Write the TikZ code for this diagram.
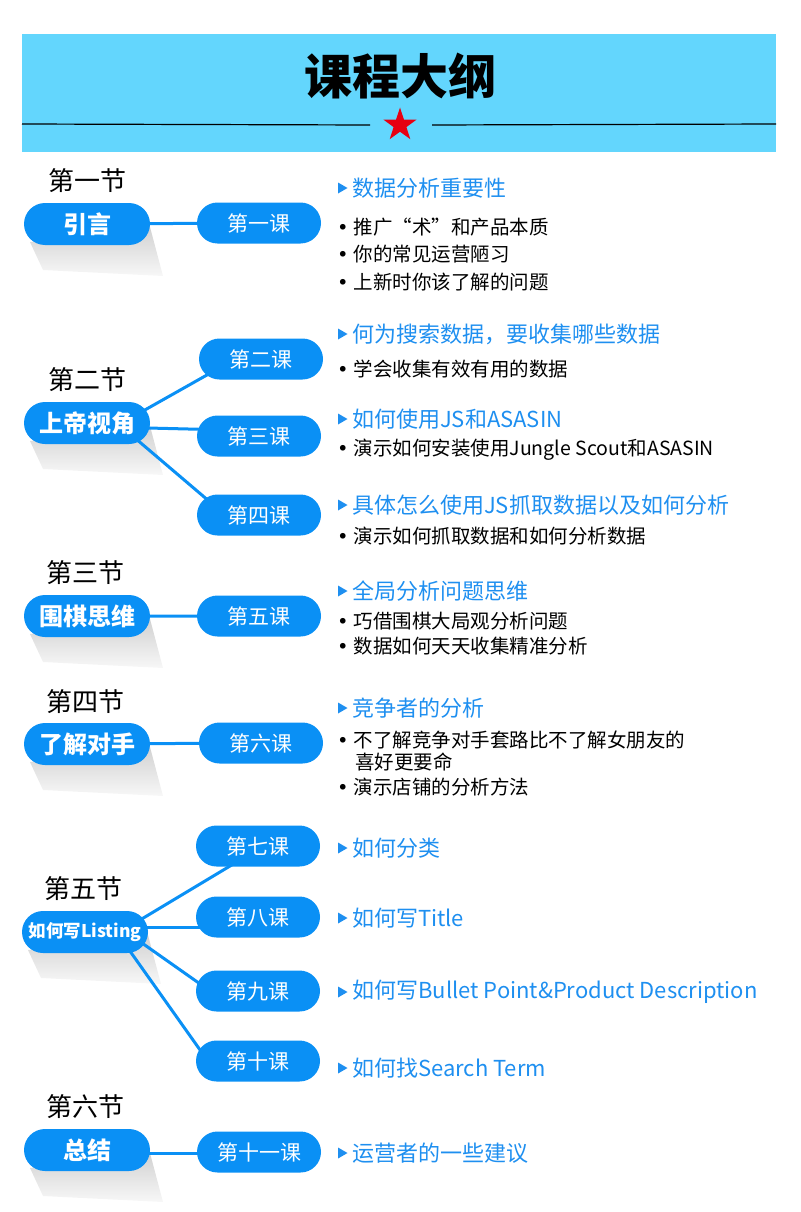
\documentclass[tikz,border=0pt]{standalone}
\usepackage{fontspec}
\setmainfont{Noto Sans CJK SC}
\newfontfamily\symfont{DejaVu Sans}
\usetikzlibrary{shapes.misc, shapes.geometric, calc, backgrounds}
\definecolor{banner}  {HTML}{63D6FD}
\definecolor{pill}    {HTML}{0A90F5}
\definecolor{headblue}{HTML}{1E8FF0}
\definecolor{starred} {HTML}{E60012}

\tikzset{
  sectpill/.style={rounded rectangle, fill=pill, text=white, inner sep=0pt,
    font=\fontsize{24}{24}\selectfont\bfseries, minimum width=126pt, minimum height=42pt},
  lessonpill/.style={rounded rectangle, fill=pill, text=white, inner sep=0pt,
    font=\fontsize{21}{21}\selectfont, minimum width=124pt, minimum height=41pt},
  sectlabel/.style={font=\fontsize{26}{26}\selectfont, text=black},
  headline/.style={anchor=west, text=headblue, inner sep=0pt, font=\fontsize{22}{22}\selectfont},
  itemline/.style={anchor=west, text=black, inner sep=0pt, font=\fontsize{19.5}{19.5}\selectfont},
  link/.style={draw=pill, line width=3pt},
  shadowbox/.style={top color=black!18, bottom color=black!3, draw=none}
}
\newcommand{\dotmark}{{\symfont •}\hspace{5pt}}

\begin{document}
\begin{tikzpicture}[x=1pt, y=-1pt]
  \useasboundingbox (0,0) rectangle (800,1212);

  % banner
  \fill[banner] (22,34) rectangle (776,152);
  \node[font=\fontsize{48}{48}\selectfont\bfseries] (title) at (400,76) {课程大纲};
  \node[star, star points=5, star point ratio=2.6, fill=starred, minimum size=35pt, inner sep=0pt] (star) at (400,125) {};
  \draw[line width=1.2pt] (22,124) -- ($(star.center)+(-30,0)$);
  \draw[line width=1.2pt] ($(star.center)+(32,0)$) -- (776,124);

  % sections
  \foreach \n/\x/\y/\t in {1/87/181/第一节, 2/87/380/第二节, 3/85/573/第三节,
                           4/85/702/第四节, 5/83/889/第五节, 6/85/1107/第六节}
    \node[sectlabel] (lab\n) at (\x,\y) {\t};
  \node[sectpill] (s1) at (87,224) {引言};
  \node[sectpill] (s2) at (87,423) {上帝视角};
  \node[sectpill] (s3) at (87,616) {围棋思维};
  \node[sectpill] (s4) at (87,744) {了解对手};
  \node[sectpill, font=\fontsize{17.5}{17.5}\selectfont\bfseries] (s5) at (85,932) {如何写Listing};
  \node[sectpill] (s6) at (87,1150) {总结};

  % lessons
  \foreach \n/\x/\y/\t in {1/259/223/第一课, 2/261/359/第二课, 3/259/436/第三课,
                           4/259/515/第四课, 5/259/616/第五课, 6/261/743/第六课,
                           7/258/846/第七课, 8/258/917/第八课, 9/258/991/第九课,
                           10/258/1061/第十课, 11/259/1152/第十一课}
    \node[lessonpill] (l\n) at (\x,\y) {\t};

  % blue headings with their triangles
  \foreach \y/\t [count=\i] in {188/数据分析重要性, 334/何为搜索数据，要收集哪些数据,
        419/如何使用JS和ASASIN, 505/具体怎么使用JS抓取数据以及如何分析,
        591/全局分析问题思维, 708/竞争者的分析, 848/如何分类, 918/如何写Title,
        992/如何写Bullet Point\&Product Description, 1068/如何找Search Term,
        1153/运营者的一些建议} {
    \node[headline] (h\i) at (338,\y) {\hspace{14pt}\t};
    \fill[headblue] ($(h\i.west)+(0,-5.5)$) -- ++(0,11) -- ++(9.5,-5.5) -- cycle;
  }

  % bullet lines
  \foreach \y/\t [count=\i] in {227/推广“术”和产品本质, 254/你的常见运营陋习,
        282/上新时你该了解的问题, 369/学会收集有效有用的数据,
        450/演示如何安装使用Jungle Scout和ASASIN, 536/演示如何抓取数据和如何分析数据,
        621/巧借围棋大局观分析问题, 646/数据如何天天收集精准分析,
        740/不了解竞争对手套路比不了解女朋友的, 787/演示店铺的分析方法}
    \node[itemline] (b\i) at (337,\y) {\dotmark\t};
  \node[itemline] (b9x) at (b9.west |- 0,762) {\hspace{18pt}喜好更要命};

  \begin{scope}[on background layer]
    % shadows under the section pills
    \foreach \s in {s1, s2, s3, s4, s5, s6}
      \shade[shadowbox] ($(\s.center)+(-57,18)$) -- ($(\s.center)+(-44,46)$)
        -- ($(\s.center)+(76,52)$) -- ($(\s.center)+(63,3)$) -- cycle;
    % connectors
    \draw[link] (s1) -- (l1);
    \draw[link] ($(s2)+(33,1)$) -- ($(l2)+(-31,3)$);
    \draw[link] ($(s2)+(20,4)$) -- ($(l3)+(-30,-6)$);
    \draw[link] ($(s2)+(28,-2)$) -- ($(l4)+(-29,4)$);
    \draw[link] (s3) -- (l5);
    \draw[link] (s4) -- (l6);
    \draw[link] ($(s5)+(30,3)$) -- ($(l7)+(-18,14)$);
    \draw[link] ($(s5)+(20,-5)$) -- ($(l8)+(-30,10)$);
    \draw[link] ($(s5)+(30,-8)$) -- ($(l9)+(-28,14)$);
    \draw[link] ($(s5)+(30,-2)$) -- ($(l10)+(-43,10)$);
    \draw[link] ($(s6)+(0,3)$) -- ($(l11)+(0,1)$);
  \end{scope}
\end{tikzpicture}
\end{document}
